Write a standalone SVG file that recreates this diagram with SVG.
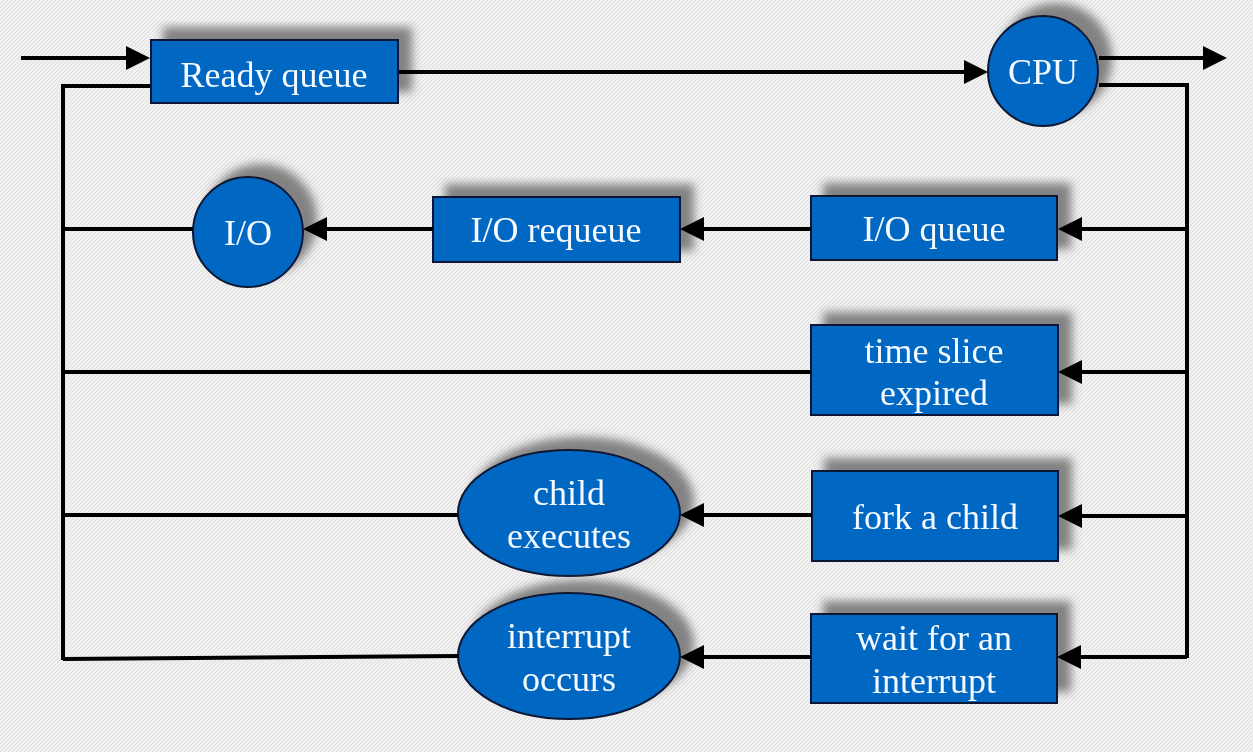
<svg xmlns="http://www.w3.org/2000/svg" width="1253" height="752" viewBox="0 0 1253 752">
<defs>
<pattern id="bg" width="4" height="4" patternUnits="userSpaceOnUse">
<rect width="4" height="4" fill="#f1f1f1"/>
<path d="M-1,1 L1,-1 M0,4 L4,0 M3,5 L5,3" stroke="#dedede" stroke-width="1"/>
</pattern>
<filter id="sh" x="-20%" y="-30%" width="140%" height="160%">
<feOffset in="SourceAlpha" dx="13" dy="-12" result="o"/>
<feGaussianBlur in="o" stdDeviation="5" result="b"/>
<feFlood flood-color="#555" flood-opacity="0.7"/>
<feComposite in2="b" operator="in" result="s"/>
<feMerge><feMergeNode in="s"/><feMergeNode in="SourceGraphic"/></feMerge>
</filter>
<marker id="ah" viewBox="0 0 24 24" markerWidth="24" markerHeight="24" refX="0" refY="12" orient="auto" markerUnits="userSpaceOnUse">
<path d="M0,0 L24,12 L0,24 z" fill="#000"/>
</marker>
</defs>
<style>
.n{fill:#0567c3;stroke:#0b1733;stroke-width:2}
.t{font-family:"Liberation Serif","Times New Roman",serif;font-size:36px;fill:#f4faff;text-anchor:middle}
.c{fill:none;stroke:#000;stroke-width:4}
.a{marker-end:url(#ah)}
</style>
<rect width="1253" height="752" fill="url(#bg)"/>
<g id="ready-queue" filter="url(#sh)">
<rect class="n" x="151" y="40" width="247" height="63"/>
<text class="t" x="274" y="87">Ready queue</text>
</g>
<g id="cpu" filter="url(#sh)">
<circle class="n" cx="1043" cy="71" r="55"/>
<text class="t" x="1043" y="84">CPU</text>
</g>
<g id="io-queue" filter="url(#sh)">
<rect class="n" x="811" y="196" width="246" height="64"/>
<text class="t" x="934" y="241">I/O queue</text>
</g>
<g id="io-requeue" filter="url(#sh)">
<rect class="n" x="433" y="197" width="247" height="65"/>
<text class="t" x="556" y="242">I/O requeue</text>
</g>
<g id="io" filter="url(#sh)">
<circle class="n" cx="248" cy="232" r="55"/>
<text class="t" x="248" y="245">I/O</text>
</g>
<g id="time-slice" filter="url(#sh)">
<rect class="n" x="811" y="325" width="247" height="90"/>
<text class="t" x="934" y="363">time slice</text>
<text class="t" x="934" y="405">expired</text>
</g>
<g id="fork" filter="url(#sh)">
<rect class="n" x="812" y="471" width="246" height="90"/>
<text class="t" x="935" y="529">fork a child</text>
</g>
<g id="child-executes" filter="url(#sh)">
<ellipse class="n" cx="569" cy="513" rx="111" ry="63"/>
<text class="t" x="569" y="505">child</text>
<text class="t" x="569" y="548">executes</text>
</g>
<g id="wait" filter="url(#sh)">
<rect class="n" x="811" y="614" width="246" height="89"/>
<text class="t" x="934" y="650">wait for an</text>
<text class="t" x="934" y="693">interrupt</text>
</g>
<g id="interrupt-occurs" filter="url(#sh)">
<ellipse class="n" cx="569" cy="656" rx="111" ry="63"/>
<text class="t" x="569" y="648">interrupt</text>
<text class="t" x="569" y="691">occurs</text>
</g>
<g id="connectors">
<path class="c a" d="M21,58 H126"/>
<path class="c a" d="M399,72 H964"/>
<path class="c a" d="M1099,58 H1203"/>
<path class="c" d="M1099,85 H1187 V658"/>
<path class="c" d="M150,86 H63 V660"/>
<path class="c a" d="M1187,229 H1082"/>
<path class="c a" d="M811,229 H704"/>
<path class="c a" d="M433,229 H327"/>
<path class="c" d="M193,229 H63"/>
<path class="c a" d="M1187,372 H1082"/>
<path class="c" d="M811,372 H63"/>
<path class="c a" d="M1187,516 H1082"/>
<path class="c a" d="M812,515 H704"/>
<path class="c" d="M458,515 H63"/>
<path class="c a" d="M1187,657 H1081"/>
<path class="c a" d="M811,657 H704"/>
<path class="c" d="M459,656 L63,659"/>
</g>
</svg>
